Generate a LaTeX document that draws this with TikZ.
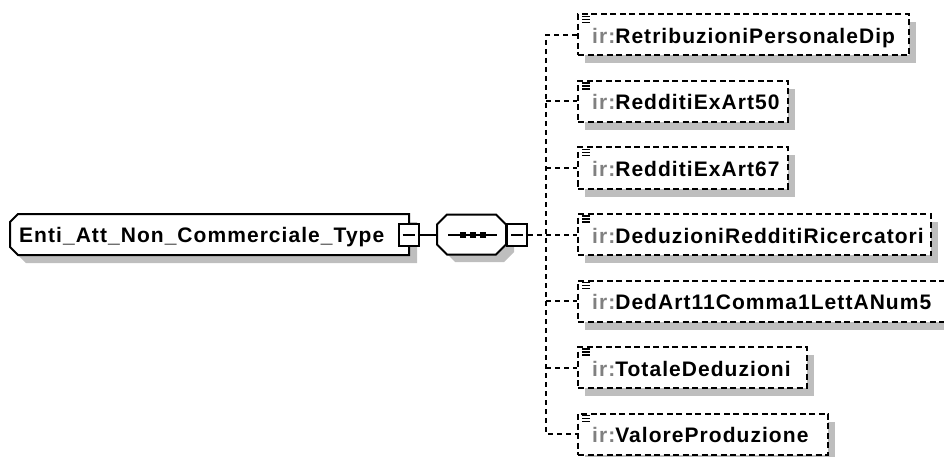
\documentclass[tikz,border=0pt]{standalone}
\usepackage{fontspec}
\setmainfont{Liberation Sans}
\newfontfamily\xsfont{Liberation Sans}[LetterSpace=5]
\definecolor{shadowgray}{RGB}{190,190,190}
\definecolor{nsgray}{RGB}{128,128,128}
\tikzset{
  elembox/.style={rectangle, draw=black, line width=2pt, dash pattern=on 6pt off 3.5pt,
    fill=white, minimum height=41pt, inner xsep=0pt, inner ysep=0pt, anchor=west},
  elemtext/.style={inner sep=0pt, anchor=base west, font=\xsfont\bfseries\fontsize{21}{24}\selectfont},
  conn/.style={line width=2pt, dash pattern=on 5pt off 4pt},
  solidconn/.style={line width=2pt},
  outline/.style={draw=black, line width=2pt, fill=white, line join=miter},
  minusbox/.style={rectangle, draw=black, line width=2pt, fill=white,
    minimum width=20pt, minimum height=22pt, inner sep=0pt},
  iconline/.style={line width=1.1pt},
}
\newcommand\childel[4]{%
  \fill[shadowgray] (585,#2-12.5) rectangle (577+#3+8,#2+28.5);
  \node[elembox, text width=#3pt] (#1) at (577,#2) {};
  \node[elemtext] (#1t) at ([xshift=15pt,yshift=-8.5pt]#1.west) {\textcolor{nsgray}{ir:}#4};
  \foreach \k in {3,6,9} \draw[iconline] ([xshift=5pt,yshift=-\k pt]#1.north west) -- ++(8,0);
}
\newcommand\minussign[1]{\draw[line width=2pt] ([xshift=-6pt]#1.center) -- ([xshift=6pt]#1.center);}
\begin{document}
\begin{tikzpicture}[x=1pt,y=-1pt]
\useasboundingbox (0,0) rectangle (944,457);
\clip (0,0) rectangle (944,457);

% root element
\fill[shadowgray] (26,222) -- (417,222) -- (417,263) -- (26,263) -- (18,255) -- (18,230) -- cycle;
\node[rectangle, minimum width=399pt, minimum height=41pt, inner sep=0pt] (root) at (209.5,234.5) {};
\draw[outline] (18,214) -- (409,214) -- (409,255) -- (18,255) -- (10,247) -- (10,222) -- cycle;
\node[elemtext] (roottext) at (19,242) {Enti\_Att\_Non\_Commerciale\_Type};
\node[minusbox] (m1) at (408.5,234.5) {};
\minussign{m1}

% sequence compositor
\fill[shadowgray] (455,222) -- (504,222) -- (514,232) -- (514,252) -- (504,262) -- (455,262) -- (445,252) -- (445,232) -- cycle;
\node[rectangle, minimum width=69pt, minimum height=40pt, inner sep=0pt] (seq) at (471.5,234.5) {};
\draw[outline] (447,214.5) -- (496,214.5) -- (506,224.5) -- (506,244.5) -- (496,254.5) -- (447,254.5) -- (437,244.5) -- (437,224.5) -- cycle;
\draw[solidconn] (448,234.5) -- (497,234.5);
\foreach \sx in {462.5,472.5,482.5} \fill (\sx-3,231.5) rectangle (\sx+3,237.5);
\node[minusbox] (m2) at (517,234.5) {};
\minussign{m2}
\draw[solidconn] (m1.east) -- (seq.west);

% children
\childel{e1}{35}{331}{RetribuzioniPersonaleDip}
\childel{e2}{101.5}{210}{RedditiExArt50}
\childel{e3}{168}{210}{RedditiExArt67}
\childel{e4}{234.5}{353}{DeduzioniRedditiRicercatori}
\childel{e5}{301}{372}{DedArt11Comma1LettANum5}
\childel{e6}{367.5}{229}{TotaleDeduzioni}
\childel{e7}{434}{250}{ValoreProduzione}

% connectors
\coordinate (j) at (546,234.5);
\draw[conn] (m2.east) -- (j);
\draw[conn] (e1.west) -| (j |- e7.west) -- (e7.west);
\foreach \e in {e2,e3,e4,e5,e6} \draw[conn] (j |- \e.west) -- (\e.west);
\end{tikzpicture}
\end{document}
